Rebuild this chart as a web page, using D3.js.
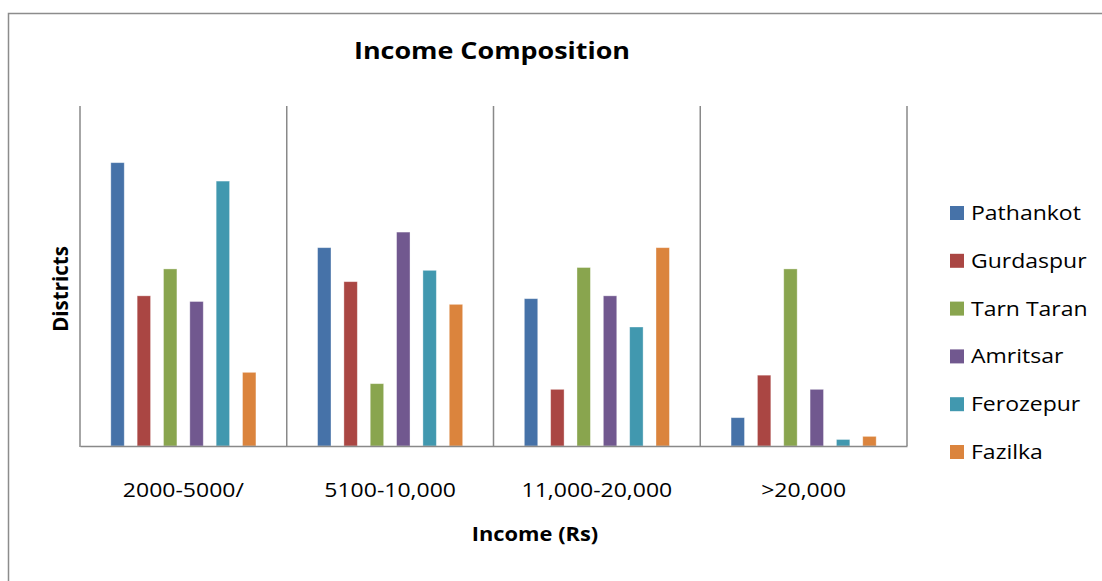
<!DOCTYPE html>
<html>
<head>
<meta charset="utf-8">
<script src="https://cdn.jsdelivr.net/npm/d3@7"></script>
<style>
  body { margin: 0; background: #fff; }
  text { font-family: "Open Sans", "Noto Sans", sans-serif; fill: #000; }
</style>
</head>
<body>
<div id="chart"></div>
<script>
// Data (y axis has no labels; scale assumed 0-120)
const categories = ['2000-5000/', '5100-10,000', '11,000-20,000', '>20,000'];
const districts = ['Pathankot', 'Gurdaspur', 'Tarn Taran', 'Amritsar', 'Ferozepur', 'Fazilka'];
const pathankot = [100, 70, 52, 10];
const gurdaspur = [53, 58, 20, 25];
const tarnTaran = [62.5, 22, 63, 62.5];
const amritsar = [51, 75.5, 53, 20];
const ferozepur = [93.5, 62, 42, 2.3];
const fazilka = [26, 50, 70, 3.4];
const colors = ['#4672A8', '#AA4643', '#89A54E', '#71588F', '#4198AF', '#DB843D'];

const seriesValues = [pathankot, gurdaspur, tarnTaran, amritsar, ferozepur, fazilka];

const W = 1102, H = 581;
const plot = { left: 80, right: 907, top: 106, bottom: 446 };
// the reference text is a little wider than Open Sans, stretch it sideways
const STRETCH = 1.15;

const svg = d3.select('#chart').append('svg')
  .attr('width', W)
  .attr('height', H);

// chart frame
svg.append('rect')
  .attr('x', 8.5).attr('y', 13.5)
  .attr('width', W + 20).attr('height', H + 20)
  .attr('fill', 'none')
  .attr('stroke', '#8c8c8c')
  .attr('stroke-width', 1.5);

const x0 = d3.scaleBand()
  .domain(categories)
  .range([plot.left, plot.right])
  .padding(0);

const x1 = d3.scaleBand()
  .domain(districts)
  .range([0, x0.bandwidth()])
  .paddingInner(0.49)
  .paddingOuter(1.17);

const y = d3.scaleLinear()
  .domain([0, 120])
  .range([plot.bottom, plot.top]);

// category separators
const grid = svg.append('g');
grid.selectAll('line')
  .data(categories)
  .join('line')
  .attr('x1', d => x0(d) + x0.bandwidth())
  .attr('x2', d => x0(d) + x0.bandwidth())
  .attr('y1', plot.top)
  .attr('y2', plot.bottom)
  .attr('stroke', '#898989')
  .attr('stroke-width', 1.5);

// bars
const groups = svg.append('g')
  .selectAll('g')
  .data(categories)
  .join('g')
  .attr('transform', d => `translate(${x0(d)},0)`);

groups.selectAll('rect')
  .data((c, ci) => districts.map((s, si) => ({ s, si, v: seriesValues[si][ci] })))
  .join('rect')
  .attr('x', d => x1(d.s))
  .attr('width', x1.bandwidth())
  .attr('y', d => y(d.v))
  .attr('height', d => y(0) - y(d.v))
  .attr('fill', d => colors[d.si])
  .attr('stroke', 'rgba(255,255,255,0.45)')
  .attr('stroke-width', 0.8);

// axes lines
svg.append('line')
  .attr('x1', plot.left).attr('x2', plot.left)
  .attr('y1', plot.top).attr('y2', plot.bottom + 1)
  .attr('stroke', '#898989').attr('stroke-width', 1.5);

const xAxis = svg.append('g')
  .attr('transform', `translate(0,${plot.bottom})`)
  .call(d3.axisBottom(x0).tickSize(0).tickPadding(0));
xAxis.select('.domain').attr('stroke', '#898989').attr('stroke-width', 1.5);
xAxis.selectAll('.tick text')
  .attr('y', 0)
  .attr('dy', 0)
  .attr('transform', `translate(0,51) scale(${STRETCH},1)`)
  .attr('font-size', 20)
  .attr('font-family', '"Open Sans", sans-serif')
  .attr('fill', '#000');

// titles
svg.append('text')
  .attr('transform', `translate(492,59) scale(1.17,1)`)
  .attr('text-anchor', 'middle')
  .attr('font-size', 23)
  .attr('font-weight', 'bold')
  .text('Income Composition');

svg.append('text')
  .attr('transform', `translate(535,541) scale(${STRETCH},1)`)
  .attr('text-anchor', 'middle')
  .attr('font-size', 19)
  .attr('font-weight', 'bold')
  .text('Income (Rs)');

svg.append('text')
  .attr('transform', 'translate(68,289) rotate(-90)')
  .attr('text-anchor', 'middle')
  .attr('font-size', 20.5)
  .attr('font-weight', 'bold')
  .text('Districts');

// legend
const legend = svg.append('g')
  .selectAll('g')
  .data(districts)
  .join('g')
  .attr('transform', (d, i) => `translate(950,${213 + i * 47.8})`);

legend.append('rect')
  .attr('x', 0).attr('y', -7)
  .attr('width', 14).attr('height', 14)
  .attr('fill', (d, i) => colors[i]);

legend.append('text')
  .attr('transform', `translate(21,0) scale(${STRETCH},1)`)
  .attr('dy', '0.35em')
  .attr('font-size', 20)
  .text(d => d);
</script>
</body>
</html>
